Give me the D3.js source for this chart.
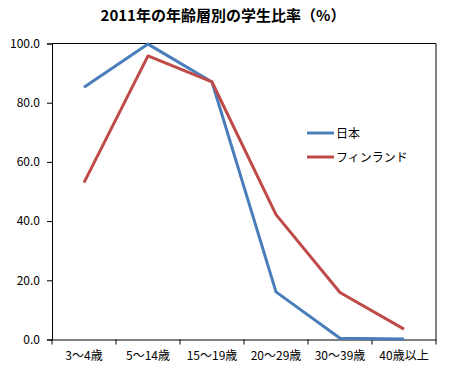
<!DOCTYPE html>
<html><head><meta charset="utf-8">
<script src="https://cdn.jsdelivr.net/npm/d3@7"></script>
<style>body{margin:0;background:#fff}svg{display:block}text{font-family:"Noto Sans CJK JP","Noto Sans",sans-serif}</style>
</head><body>
<script>
const categories = ["3〜4歳","5〜14歳","15〜19歳","20〜29歳","30〜39歳","40歳以上"];
const japan = [85.2, 99.8, 87.0, 16.1, 0.4, 0.2];
const finland = [53.0, 95.8, 87.0, 42.2, 15.9, 3.5];
const yTicks = [0,20,40,60,80,100];
const seriesNames = ["日本","フィンランド"];
const colors = ["#4A7EBB","#BE4B48"];

(function(){
const W=450,H=372;
const svg=d3.select("body").append("svg").attr("width",W).attr("height",H);
const pL=52,pR=436,pT=43.5,pB=339.5;
const x=d3.scaleBand().domain(categories).range([pL,pR]);
const y=d3.scaleLinear().domain([0,100]).range([pB,pT]);

svg.append("text").attr("x",223).attr("y",21).attr("text-anchor","middle")
  .attr("font-size",15).attr("font-weight","bold").text("2011年の年齢層別の学生比率（%）");

const ya=svg.append("g").attr("transform",`translate(${pL},0)`)
  .call(d3.axisLeft(y).tickValues(yTicks).tickFormat(d3.format(".1f")).tickSizeOuter(0).tickSize(5));
ya.select(".domain").attr("stroke","#000");
ya.selectAll(".tick line").attr("stroke","#000");
ya.selectAll("text").attr("font-size",12).attr("fill","#000").attr("x",-12).attr("font-family","'Liberation Sans',Arial,sans-serif");

const xa=svg.append("g").attr("transform",`translate(0,${pB})`)
  .call(d3.axisBottom(x).tickSize(0).tickSizeOuter(0));
xa.select(".domain").attr("stroke","#000");
xa.selectAll("text").attr("font-size",12).attr("fill","#000").attr("dy","1.45em");
const bounds=[...categories.map(c=>x(c)), x(categories[categories.length-1])+x.bandwidth()];
svg.append("g").selectAll("line").data(bounds).join("line")
  .attr("x1",d=>d).attr("x2",d=>d).attr("y1",pB).attr("y2",pB+5).attr("stroke","#000");
svg.append("line").attr("x1",pR).attr("x2",pR).attr("y1",pT).attr("y2",pB).attr("stroke","#000");
svg.append("line").attr("x1",pL).attr("x2",pR).attr("y1",pT).attr("y2",pT).attr("stroke","#000");

const line=d3.line().x((d,i)=>x(categories[i])+x.bandwidth()/2).y(d=>y(d));
[japan,finland].forEach((s,k)=>{
  svg.append("path").datum(s).attr("d",line).attr("fill","none")
    .attr("stroke",colors[k]).attr("stroke-width",3).attr("stroke-linejoin","round");
});

seriesNames.forEach((n,k)=>{
  const ly=133+k*24;
  svg.append("line").attr("x1",307).attr("x2",334).attr("y1",ly).attr("y2",ly).attr("stroke",colors[k]).attr("stroke-width",3);
  svg.append("text").attr("x",336).attr("y",ly+4.5).attr("font-size",12).text(n);
});
})();
</script>
</body></html>
